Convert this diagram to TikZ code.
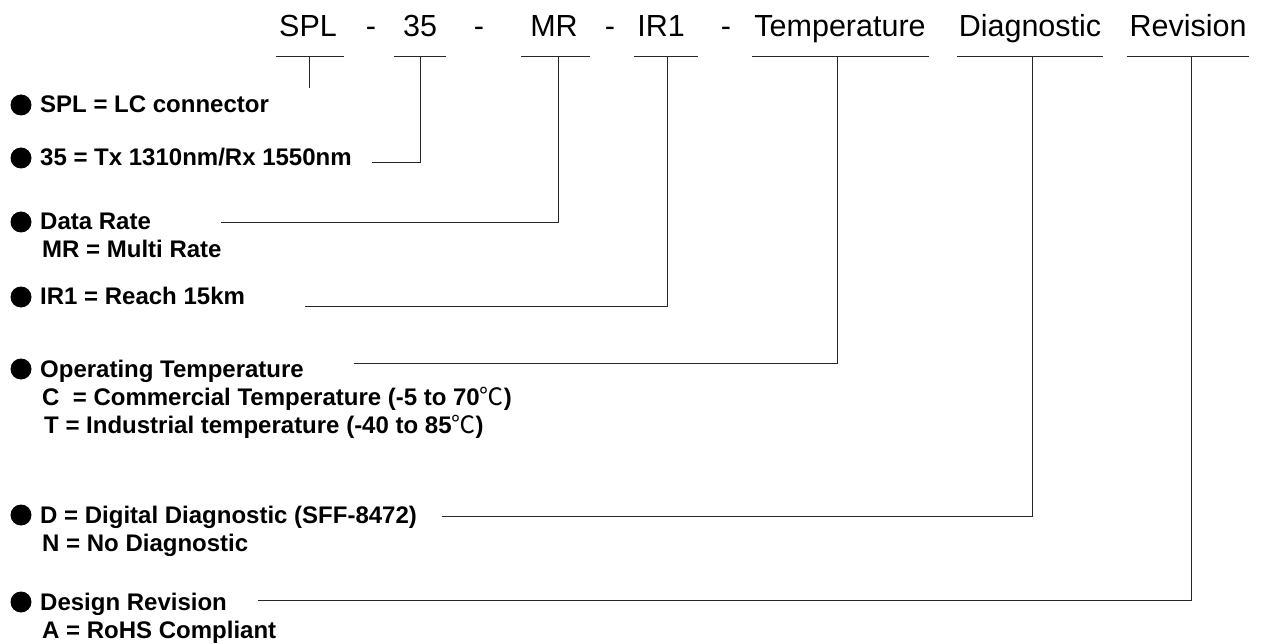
\documentclass[tikz,border=0pt]{standalone}
\usepackage{fontspec}
\setmainfont{Liberation Sans}
\newfontfamily\cjkfont{Noto Sans CJK SC}
\usetikzlibrary{positioning}
\newcommand{\degC}{{\cjkfont\mdseries ℃}}

\begin{document}
\begin{tikzpicture}[
      x=1pt, y=-1pt,
      head/.style={anchor=base, inner sep=0pt, font=\fontsize{30.5}{36}\selectfont},
      lbl/.style={anchor=base west, inner sep=0pt, font=\fontsize{24}{28}\selectfont\bfseries},
      sub/.style={lbl, xshift=2pt, yshift=-28pt},
      dot/.style={circle, fill=black, inner sep=0pt, minimum size=21pt},
      conn/.style={line width=1pt, black!85}
    ]
      \useasboundingbox (0,0) rectangle (1271,644);

      % Part number header
      \node[head] (hSPL) at (308,37) {SPL};
      \node[head] (dash1) at (371,37) {-};
      \node[head] (h35) at (420,37) {35};
      \node[head] (dash2) at (479,37) {-};
      \node[head] (hMR) at (554,37) {MR};
      \node[head] (dash3) at (610,37) {-};
      \node[head] (hIR) at (661,37) {IR1};
      \node[head] (dash4) at (726,37) {-};
      \node[head] (hTmp) at (840,37) {Temperature};
      \node[head] (hDia) at (1030,37) {Diagnostic};
      \node[head] (hRev) at (1188,37) {Revision};

      % Underlines
      \foreach \a/\b in {276/344, 394/446, 521/590, 634/698, 752/929, 957/1103, 1127/1249}
        \draw[conn] (\a,57) -- (\b,57);

      % Tick points under each field
      \coordinate (tSPL) at (309,57);
      \coordinate (t35) at (420,57);
      \coordinate (tMR) at (558,57);
      \coordinate (tIR) at (667,57);
      \coordinate (tTmp) at (837,57);
      \coordinate (tDia) at (1032,57);
      \coordinate (tRev) at (1191,57);

      % Legend entries
      \node[dot] (b1) at (21,105) {};
      \node[lbl] (lSPL) at (40,113) {SPL = LC connector};

      \node[dot] (b2) at (21,158) {};
      \node[lbl] (l35) at (40,166) {35 = Tx 1310nm/Rx 1550nm};

      \node[dot] (b3) at (21,222) {};
      \node[lbl] (lMR) at (40,230) {Data Rate};
      \node[sub] (sMR) at (lMR.base west) {MR = Multi Rate};

      \node[dot] (b4) at (21,297) {};
      \node[lbl] (lIR) at (40,305) {IR1 = Reach 15km};

      \node[dot] (b5) at (21,369) {};
      \node[lbl] (lTmp) at (40,377) {Operating Temperature};
      \node[sub] (sTmpC) at (lTmp.base west) {C\ \ = Commercial Temperature (-5 to 70\degC)};
      \node[sub] (sTmpT) at (sTmpC.base west) {T = Industrial temperature (-40 to 85\degC)};

      \node[dot] (b6) at (21,515) {};
      \node[lbl] (lDia) at (40,523) {D = Digital Diagnostic (SFF-8472)};
      \node[sub] (sDia) at (lDia.base west) {N = No Diagnostic};

      \node[dot] (b7) at (21,602) {};
      \node[lbl] (lRev) at (40,610) {Design Revision};
      \node[sub] (sRev) at (lRev.base west) {A = RoHS Compliant};

      % Line ends next to the legend
      \coordinate (eSPL) at (309,88);
      \coordinate (e35) at (372,163);
      \coordinate (eMR) at (221,223);
      \coordinate (eIR) at (305,306);
      \coordinate (eTmp) at (354,363);
      \coordinate (eDia) at (442,516);
      \coordinate (eRev) at (258,600);

      % Connectors
      \draw[conn] (tSPL) -- (eSPL);
      \draw[conn] (t35) |- (e35);
      \draw[conn] (tMR) |- (eMR);
      \draw[conn] (tIR) |- (eIR);
      \draw[conn] (tTmp) |- (eTmp);
      \draw[conn] (tDia) |- (eDia);
      \draw[conn] (tRev) |- (eRev);
    \end{tikzpicture}
\end{document}
